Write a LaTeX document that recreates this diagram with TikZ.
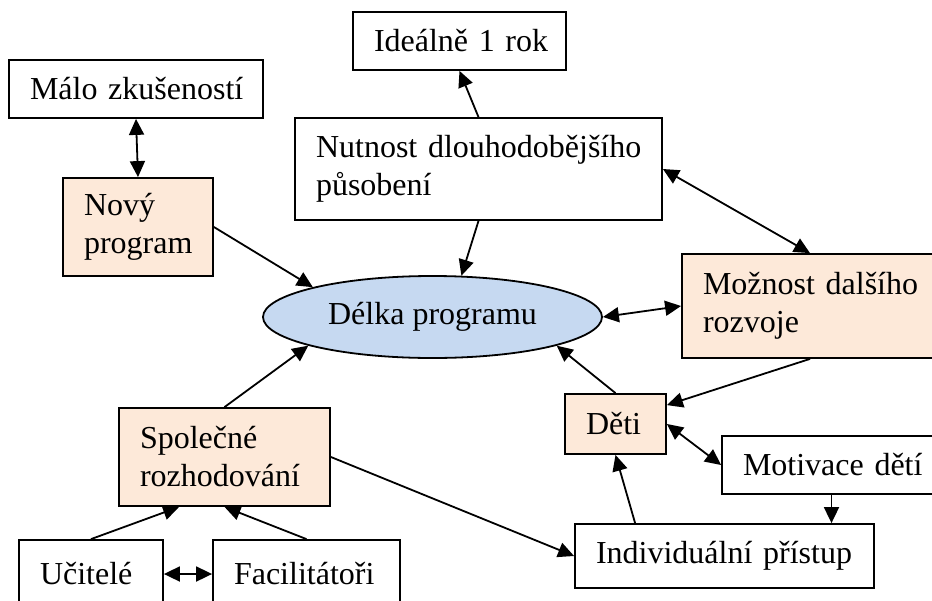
\documentclass[tikz,border=0pt]{standalone}
\usepackage{fontspec}
\setmainfont{Liberation Serif}
\usetikzlibrary{arrows.meta,shapes.geometric}
\definecolor{peach}{HTML}{FDE9D9}
\definecolor{paleblue}{HTML}{C6D9F1}
\hyphenpenalty=10000
\exhyphenpenalty=10000
\begin{document}
\begin{tikzpicture}[x=1pt,y=-1pt,
  every node/.style={font=\fontsize{32}{38}\selectfont},
  box/.style={draw, line width=1.8pt, rectangle, inner xsep=21pt, inner ysep=0pt, align=left},
  hl/.style={fill=peach},
  tip/.tip={Triangle[length=16pt,width=15pt]},
  link/.style={line width=1.8pt, -tip},
  both/.style={line width=1.8pt, tip-tip}]
  \fill[white] (0,0) rectangle (932,600);
  \clip (0,0) rectangle (932,600);

  % boxes
  \node[box, minimum height=58pt, text width=171pt] (ideal) at (459.5,41) {Ideálně~1~rok};
  \node[box, minimum height=58pt, text width=212pt] (malo) at (136,89) {Málo~zkušeností};
  \node[box, hl, minimum height=98pt, text width=108pt] (novy) at (138,227) {Nový\\program};
  \node[box, minimum height=102pt, text width=325pt] (nutnost) at (478.5,169) {Nutnost~dlouhodobějšího\\působení};
  \node[draw, ellipse, fill=paleblue, line width=1.8pt, inner sep=0pt,
        minimum width=339pt, minimum height=82pt] (delka) at (432.5,317) {Délka programu};
  \node[box, hl, minimum height=104pt, text width=214pt] (moznost) at (810,306) {Možnost~dalšího\\rozvoje};
  \node[box, hl, minimum height=60pt, text width=59pt] (deti) at (615.5,424) {Děti};
  \node[box, minimum height=58pt, text width=177pt] (motiv) at (831.5,465) {Motivace~dětí};
  \node[box, minimum height=64pt, text width=257pt] (indiv) at (724.5,556) {Individuální~přístup};
  \node[box, hl, minimum height=98pt, text width=169pt] (spol) at (224.5,457) {Společné\\rozhodování};
  \node[box, minimum height=68pt, text width=102pt] (ucit) at (91,574) {Učitelé};
  \node[box, minimum height=68pt, text width=145pt] (facil) at (306.5,574) {Facilitátoři};

  % connectors
  \draw[both] (malo.south) -- (novy.north);
  \draw[link] (nutnost.north) -- (ideal.south);
  \draw[link] (nutnost.south) -- (delka.55.8);
  \draw[link] (novy.east) -- (delka.166.6);
  \draw[both] (nutnost.east) -- (moznost.north);
  \draw[both] (delka.east) -- (moznost.west);
  \draw[link] (moznost.south) -- ([yshift=-12pt]deti.north east);
  \draw[link] (deti.north) -- (delka.-13.4);
  \draw[both] (deti.east) -- (motiv.west);
  \draw[link] (motiv.south) -- (motiv.south |- indiv.north);
  \draw[link] ([xshift=61pt]indiv.north west) -- (deti.south);
  \draw[link] (spol.east) -- (indiv.west);
  \draw[link] (spol.north) -- (delka.193.7);
  \draw[link] (ucit.north) -- ([xshift=61pt]spol.south west);
  \draw[link] (facil.north) -- (spol.south);
  \draw[both] (ucit.east) -- (facil.west);
\end{tikzpicture}
\end{document}
